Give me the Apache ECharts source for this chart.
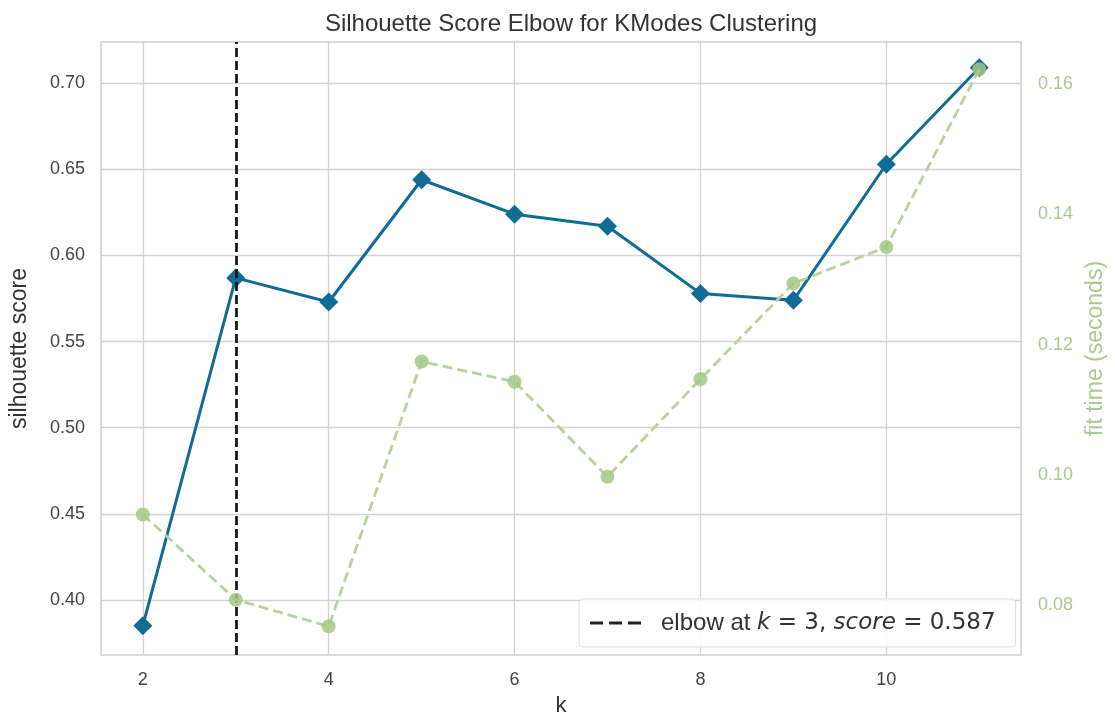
<!DOCTYPE html>
<html>
<head>
<meta charset="utf-8">
<script src="https://cdn.jsdelivr.net/npm/echarts@6/dist/echarts.min.js"></script>
<style>
html,body{margin:0;padding:0;background:#fff;}
#chart{width:1115px;height:722px;}
</style>
</head>
<body>
<div id="chart"></div>
<script>
const kValues = [2, 3, 4, 5, 6, 7, 8, 9, 10, 11];
const silhouetteScores = [0.385, 0.587, 0.573, 0.644, 0.624, 0.617, 0.578, 0.574, 0.653, 0.709];
const fitTimes = [0.0939, 0.0808, 0.0767, 0.1174, 0.1143, 0.0997, 0.1147, 0.1294, 0.1350, 0.1623];
const xTicks = [2, 4, 6, 8, 10];
const scoreTicks = [0.40, 0.45, 0.50, 0.55, 0.60, 0.65, 0.70];
const timeTicks = [0.08, 0.10, 0.12, 0.14, 0.16];
const elbowK = 3;
const elbowScore = 0.587;
const titleText = 'Silhouette Score Elbow for KModes Clustering';

const scoreData = kValues.map((k, i) => [k, silhouetteScores[i]]);
const timeData = kValues.map((k, i) => [k, fitTimes[i]]);

const BLUE = '#116c93';
const GREEN = '#a2c882';
const GREEN_TXT = '#a9c98e';
const GRIDC = '#d3d3d3';
const FONT = "'Liberation Sans', Arial, sans-serif";

const chart = echarts.init(document.getElementById('chart'), null, {renderer: 'canvas'});

chart.setOption({
  backgroundColor: '#ffffff',
  animation: false,
  title: {
    text: titleText,
    left: 566,
    textAlign: 'center',
    top: 7,
    textStyle: {fontFamily: FONT, fontSize: 24, fontWeight: 'normal', color: '#333333'}
  },
  grid: {
    left: 101, right: 84, top: 42, bottom: 59,
    show: true, borderColor: '#cfcfcf', borderWidth: 1.5, backgroundColor: '#ffffff',
    containLabel: false
  },
  legend: {
    show: true,
    left: 579, top: 599,
    data: [{name: 'elbow', icon: 'path://M0,0h13v3h-13z M19,0h13v3h-13z M38,0h13v3h-13z'}],
    itemWidth: 51, itemHeight: 3,
    padding: [12, 20, 12, 11],
    backgroundColor: 'rgba(255,255,255,0.85)',
    borderColor: '#dddddd', borderWidth: 1, borderRadius: 4,
    itemStyle: {color: '#222222'},
    formatter: function () {
      return '{sp| }{n|elbow at }{i|k}{m| = ' + elbowK + ', }{i|score}{m| = ' + elbowScore.toFixed(3) + '}';
    },
    textStyle: {
      rich: {
        sp: {width: 15},
        n: {fontFamily: FONT, fontSize: 24, color: '#333333'},
        i: {fontFamily: "'DejaVu Sans', sans-serif", fontStyle: 'italic', fontSize: 23, color: '#333333'},
        m: {fontFamily: "'DejaVu Sans', sans-serif", fontSize: 23, color: '#333333'}
      }
    }
  },
  xAxis: {
    type: 'value',
    min: 1.55, max: 11.45,
    name: 'k',
    nameLocation: 'middle',
    nameGap: 40,
    nameTextStyle: {fontFamily: FONT, fontSize: 22, color: '#333333'},
    axisLine: {show: false},
    axisTick: {show: false, customValues: xTicks},
    axisLabel: {customValues: xTicks, fontFamily: FONT, fontSize: 18, color: '#444444', margin: 16},
    splitLine: {show: true, lineStyle: {color: GRIDC, width: 1.3}}
  },
  yAxis: [
    {
      type: 'value',
      min: 0.368, max: 0.724,
      name: 'silhouette score',
      nameLocation: 'middle',
      nameGap: 70,
      nameRotate: 90,
      nameTextStyle: {fontFamily: FONT, fontSize: 23, color: '#333333'},
      axisLine: {show: false},
      axisTick: {show: false, customValues: scoreTicks},
      axisLabel: {customValues: scoreTicks, fontFamily: FONT, fontSize: 18, color: '#444444', margin: 16,
        formatter: v => v.toFixed(2)},
      splitLine: {show: true, lineStyle: {color: GRIDC, width: 1.3}}
    },
    {
      type: 'value',
      position: 'right',
      min: 0.0723, max: 0.1665,
      name: 'fit time (seconds)',
      nameLocation: 'middle',
      nameGap: 60,
      nameRotate: 90,
      nameTextStyle: {fontFamily: FONT, fontSize: 23, color: GREEN_TXT},
      axisLine: {show: false},
      axisTick: {show: false, customValues: timeTicks},
      axisLabel: {customValues: timeTicks, fontFamily: FONT, fontSize: 18, color: GREEN_TXT, margin: 17,
        formatter: v => v.toFixed(2)},
      splitLine: {show: false}
    }
  ],
  series: [
    {
      name: 'silhouette score',
      type: 'line',
      xAxisIndex: 0, yAxisIndex: 0,
      data: scoreData,
      symbol: 'diamond',
      symbolSize: 19,
      lineStyle: {color: BLUE, width: 3},
      itemStyle: {color: BLUE},
      z: 3
    },
    {
      name: 'elbow',
      type: 'line',
      xAxisIndex: 0, yAxisIndex: 0,
      data: [],
      lineStyle: {color: '#222222', type: [9, 4], width: 2.5},
      itemStyle: {color: '#222222'},
      markLine: {
        silent: true,
        symbol: 'none',
        label: {show: false},
        lineStyle: {color: '#1a1a1a', type: [9, 4], width: 2.8},
        data: [{xAxis: elbowK}]
      },
      z: 4
    },
    {
      name: 'fit time',
      type: 'line',
      xAxisIndex: 0, yAxisIndex: 1,
      data: timeData,
      symbol: 'circle',
      symbolSize: 14,
      lineStyle: {color: '#b6d39f', width: 2.8, type: [10, 5]},
      itemStyle: {color: GREEN, opacity: 0.85},
      z: 5
    }
  ]
});
</script>
</body>
</html>
